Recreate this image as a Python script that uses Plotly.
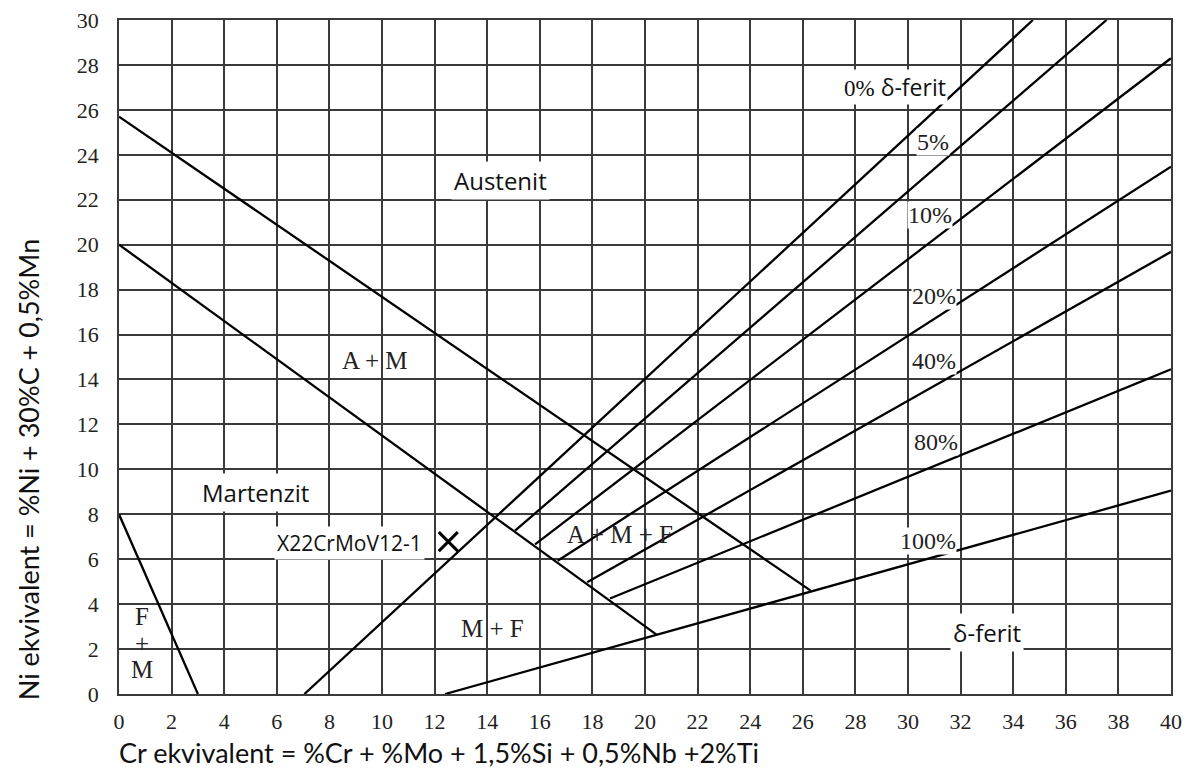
import plotly.graph_objects as go

# ---- data ----
austenite_x = [0, 26.3]
austenite_y = [25.7, 4.6]
martensite_x = [0, 20.45]
martensite_y = [20.0, 2.63]
fm_x = [0, 3.0]
fm_y = [8.0, 0]
ferrite0_x = [7.05, 34.75]
ferrite0_y = [0, 30]
ferrite5_x = [15.06, 37.55]
ferrite5_y = [7.27, 30]
ferrite10_x = [15.82, 40]
ferrite10_y = [6.66, 28.3]
ferrite20_x = [16.68, 40]
ferrite20_y = [5.93, 23.47]
ferrite40_x = [17.8, 40]
ferrite40_y = [4.97, 19.68]
ferrite80_x = [18.67, 40]
ferrite80_y = [4.25, 14.45]
ferrite100_x = [12.4, 40]
ferrite100_y = [0, 9.05]

steel_x = [12.52]
steel_y = [6.78]
steel_name = "X22CrMoV12-1"

x_ticks = list(range(0, 41, 2))
y_ticks = list(range(0, 31, 2))

pct_labels = ["5%", "10%", "20%", "40%", "80%", "100%"]
pct_x = [30.95, 30.85, 31.0, 31.0, 31.05, 30.75]
pct_y = [24.55, 21.3, 17.7, 14.8, 11.2, 6.8]

serif_regions = ["A + M", "A + M + F", "M + F", "F", "+", "M"]
serif_x = [9.73, 19.05, 14.2, 0.86, 0.86, 0.86]
serif_y = [14.85, 7.08, 2.9, 3.44, 2.26, 1.07]

sans_regions = ["Austenit", "Martenzit", "δ-ferit"]
sans_x = [14.5, 5.2, 33.0]
sans_y = [22.85, 8.95, 2.75]

SERIF = "Liberation Serif"
SANS = "Open Sans"
TITLE = "Lato"

fig = go.Figure()

lines = [
    (austenite_x, austenite_y), (martensite_x, martensite_y), (fm_x, fm_y),
    (ferrite0_x, ferrite0_y), (ferrite5_x, ferrite5_y), (ferrite10_x, ferrite10_y),
    (ferrite20_x, ferrite20_y), (ferrite40_x, ferrite40_y), (ferrite80_x, ferrite80_y),
    (ferrite100_x, ferrite100_y),
]
for lx, ly in lines:
    fig.add_trace(go.Scatter(x=lx, y=ly, mode="lines",
                             line=dict(color="black", width=2.3),
                             hoverinfo="skip", showlegend=False))

fig.add_trace(go.Scatter(x=steel_x, y=steel_y, mode="markers",
                         marker=dict(symbol="x-thin", size=19,
                                     line=dict(width=3, color="black")),
                         hoverinfo="skip", showlegend=False))

anns = []
for t, x, y in zip(pct_labels, pct_x, pct_y):
    anns.append(dict(x=x, y=y, text=t, showarrow=False,
                     font=dict(family=SERIF, size=24, color="#222"),
                     bgcolor="white", borderpad=0))
for t, x, y in zip(serif_regions, serif_x, serif_y):
    anns.append(dict(x=x, y=y, text=t, showarrow=False,
                     font=dict(family=SERIF, size=25, color="#222")))
for t, x, y in zip(sans_regions, sans_x, sans_y):
    anns.append(dict(x=x, y=y, text=t, showarrow=False,
                     font=dict(family=SANS, size=24, color="#111"),
                     bgcolor="white", borderpad=2))
anns.append(dict(x=steel_x[0] - 3.75, y=steel_y[0] - 0.05, text=steel_name,
                 showarrow=False, font=dict(family=SANS, size=21, color="#111"),
                 bgcolor="white", borderpad=2))
anns.append(dict(x=29.5, y=27.0,
                 text='<span style="font-family:Liberation Serif">0%</span> δ-ferit',
                 showarrow=False, font=dict(family=SANS, size=23, color="#111"),
                 bgcolor="white", borderpad=1))
# axis titles
anns.append(dict(xref="paper", yref="paper", x=0, y=0, xanchor="left", yanchor="middle",
                 yshift=-58, xshift=-2,
                 text="Cr ekvivalent = %Cr + %Mo + 1,5%Si + 0,5%Nb +2%Ti",
                 showarrow=False, font=dict(family=TITLE, size=27, color="#111")))
anns.append(dict(xref="paper", yref="paper", x=-0.0865, y=0.332, xanchor="center",
                 yanchor="middle", textangle=-90,
                 text="Ni ekvivalent = %Ni + 30%C + 0,5%Mn",
                 showarrow=False, font=dict(family=TITLE, size=27, color="#111")))

axis_common = dict(showgrid=True, gridcolor="#3a3a3a", gridwidth=1.6,
                   showline=True, linecolor="#3a3a3a", linewidth=1.6, mirror=True,
                   zeroline=False, ticks="", automargin=False,
                   tickfont=dict(family=SERIF, size=22, color="#222"))

fig.update_layout(
    width=1186, height=771,
    margin=dict(l=119, r=15, t=20, b=77, autoexpand=False),
    paper_bgcolor="white", plot_bgcolor="white",
    xaxis=dict(range=[0, 40], tickvals=x_ticks, ticklabelstandoff=7, **axis_common),
    yaxis=dict(range=[0, 30], tickvals=y_ticks, ticklabelstandoff=14, **axis_common),
    annotations=anns,
    showlegend=False,
)

fig.write_html(
    "out.html",
    config={"displayModeBar": False},
    post_script=("document.body.style.margin='0';"
                 "document.body.style.overflow='hidden';"
                 "document.documentElement.style.overflow='hidden';"),
)
